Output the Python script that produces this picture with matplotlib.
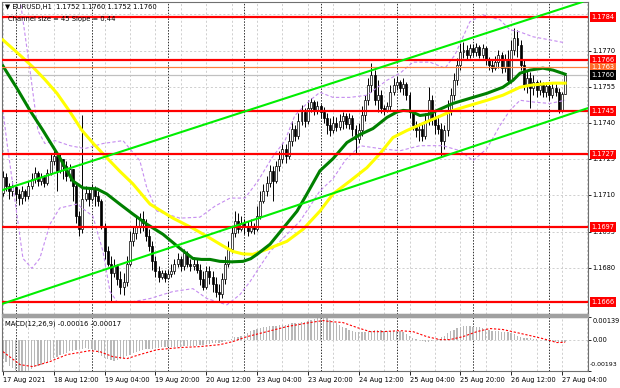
import numpy as np
import matplotlib
matplotlib.use("Agg")
import matplotlib.pyplot as plt
from matplotlib.patches import Rectangle

# ---------------- data (EURUSD H1, 17-27 Aug 2021) ----------------
first_open = 1.17110
closes = [
    1.17177, 1.17140, 1.17119, 1.17135, 1.17106, 1.17089, 1.17119, 1.17098, 1.17140, 1.17169,
    1.17194, 1.17160, 1.17177, 1.17152, 1.17194, 1.17244, 1.17265, 1.17202, 1.17252, 1.17223,
    1.17181, 1.17210, 1.17140, 1.17014, 1.16960, 1.17085, 1.17110, 1.17085, 1.17127, 1.17098,
    1.17077, 1.16972, 1.16868, 1.16818, 1.16777, 1.16806, 1.16752, 1.16722, 1.16743, 1.16818,
    1.16910, 1.16943, 1.16972, 1.17002, 1.16985, 1.16931, 1.16889, 1.16827, 1.16785, 1.16764,
    1.16777, 1.16760, 1.16773, 1.16785, 1.16818, 1.16835, 1.16806, 1.16860, 1.16818, 1.16806,
    1.16818, 1.16793, 1.16752, 1.16722, 1.16785, 1.16764, 1.16735, 1.16702, 1.16693, 1.16752,
    1.16818, 1.16877, 1.16943, 1.16993, 1.16960, 1.16985, 1.16972, 1.16952, 1.16972, 1.16960,
    1.17014, 1.17077, 1.17119, 1.17152, 1.17202, 1.17160, 1.17223, 1.17252, 1.17294, 1.17265,
    1.17327, 1.17377, 1.17348, 1.17410, 1.17444, 1.17410, 1.17461, 1.17486, 1.17452, 1.17469,
    1.17444, 1.17419, 1.17390, 1.17369, 1.17402, 1.17385, 1.17410, 1.17427, 1.17394, 1.17419,
    1.17377, 1.17335, 1.17369, 1.17431, 1.17494, 1.17556, 1.17598, 1.17494, 1.17515, 1.17461,
    1.17452, 1.17469, 1.17527, 1.17556, 1.17569, 1.17544, 1.17561, 1.17515, 1.17444, 1.17390,
    1.17369, 1.17377, 1.17348, 1.17410, 1.17494, 1.17419, 1.17390, 1.17377, 1.17327, 1.17369,
    1.17452, 1.17515, 1.17577, 1.17640, 1.17694, 1.17702, 1.17682, 1.17711, 1.17694, 1.17715,
    1.17682, 1.17711, 1.17661, 1.17640, 1.17627, 1.17652, 1.17682, 1.17627, 1.17661, 1.17577,
    1.17702, 1.17752, 1.17723, 1.17640, 1.17556, 1.17586, 1.17544, 1.17569, 1.17536, 1.17556,
    1.17527, 1.17552, 1.17515, 1.17544, 1.17527, 1.17452, 1.17520, 1.17600]
highs = [
    1.17202, 1.17194, 1.17152, 1.17160, 1.17140, 1.17127, 1.17140, 1.17127, 1.17160, 1.17194,
    1.17219, 1.17202, 1.17194, 1.17185, 1.17210, 1.17277, 1.17298, 1.17265, 1.17277, 1.17252,
    1.17244, 1.17231, 1.17210, 1.17148, 1.17035, 1.17431, 1.17140, 1.17127, 1.17148, 1.17140,
    1.17119, 1.17085, 1.16985, 1.16889, 1.16848, 1.16835, 1.16818, 1.16785, 1.16777, 1.16848,
    1.16952, 1.16972, 1.17014, 1.17027, 1.17035, 1.17002, 1.16960, 1.16910, 1.16848, 1.16806,
    1.16793, 1.16793, 1.16793, 1.16818, 1.16835, 1.16860, 1.16848, 1.16877, 1.16868, 1.16835,
    1.16843, 1.16835, 1.16818, 1.16785, 1.16806, 1.16806, 1.16785, 1.16764, 1.16735, 1.16777,
    1.16848, 1.16910, 1.16972, 1.17035, 1.17027, 1.17014, 1.17002, 1.16993, 1.17002, 1.16985,
    1.17056, 1.17119, 1.17148, 1.17181, 1.17227, 1.17223, 1.17244, 1.17285, 1.17319, 1.17315,
    1.17360, 1.17410, 1.17390, 1.17440, 1.17473, 1.17461, 1.17494, 1.17502, 1.17494, 1.17490,
    1.17477, 1.17465, 1.17440, 1.17419, 1.17427, 1.17423, 1.17436, 1.17444, 1.17440, 1.17440,
    1.17431, 1.17390, 1.17402, 1.17469, 1.17515, 1.17586, 1.17648, 1.17619, 1.17577, 1.17536,
    1.17473, 1.17486, 1.17556, 1.17586, 1.17594, 1.17577, 1.17586, 1.17569, 1.17527, 1.17452,
    1.17410, 1.17402, 1.17394, 1.17440, 1.17548, 1.17515, 1.17452, 1.17431, 1.17402, 1.17390,
    1.17494, 1.17544, 1.17606, 1.17669, 1.17732, 1.17736, 1.17723, 1.17727, 1.17727, 1.17732,
    1.17723, 1.17727, 1.17719, 1.17673, 1.17661, 1.17677, 1.17702, 1.17694, 1.17686, 1.17702,
    1.17744, 1.17794, 1.17786, 1.17744, 1.17661, 1.17619, 1.17611, 1.17598, 1.17577, 1.17577,
    1.17569, 1.17569, 1.17565, 1.17569, 1.17561, 1.17544, 1.17527, 1.17600]
lows = [
    1.17098, 1.17119, 1.17085, 1.17098, 1.17077, 1.17060, 1.17064, 1.17077, 1.17085, 1.17127,
    1.17152, 1.17140, 1.17144, 1.17135, 1.17144, 1.17185, 1.17227, 1.17119, 1.17194, 1.17169,
    1.17160, 1.17160, 1.17077, 1.16985, 1.16931, 1.16943, 1.17077, 1.17056, 1.17077, 1.17056,
    1.17056, 1.16960, 1.16835, 1.16806, 1.16660, 1.16764, 1.16731, 1.16693, 1.16689, 1.16727,
    1.16806, 1.16889, 1.16918, 1.16943, 1.16952, 1.16910, 1.16868, 1.16793, 1.16764, 1.16743,
    1.16752, 1.16743, 1.16752, 1.16764, 1.16773, 1.16802, 1.16785, 1.16793, 1.16802, 1.16785,
    1.16793, 1.16777, 1.16731, 1.16710, 1.16714, 1.16735, 1.16702, 1.16681, 1.16660, 1.16677,
    1.16735, 1.16802, 1.16860, 1.16927, 1.16943, 1.16952, 1.16939, 1.16931, 1.16943, 1.16939,
    1.16952, 1.17002, 1.17069, 1.17098, 1.17135, 1.17077, 1.17152, 1.17202, 1.17235, 1.17235,
    1.17252, 1.17306, 1.17327, 1.17335, 1.17390, 1.17385, 1.17394, 1.17444, 1.17431, 1.17436,
    1.17419, 1.17402, 1.17356, 1.17348, 1.17360, 1.17365, 1.17369, 1.17377, 1.17381, 1.17377,
    1.17348, 1.17277, 1.17319, 1.17348, 1.17410, 1.17473, 1.17527, 1.17473, 1.17444, 1.17440,
    1.17431, 1.17444, 1.17452, 1.17515, 1.17536, 1.17527, 1.17515, 1.17494, 1.17419, 1.17369,
    1.17344, 1.17327, 1.17327, 1.17335, 1.17390, 1.17390, 1.17356, 1.17356, 1.17265, 1.17294,
    1.17348, 1.17431, 1.17494, 1.17556, 1.17619, 1.17669, 1.17661, 1.17669, 1.17677, 1.17677,
    1.17669, 1.17669, 1.17640, 1.17619, 1.17611, 1.17619, 1.17627, 1.17606, 1.17611, 1.17565,
    1.17565, 1.17682, 1.17673, 1.17619, 1.17536, 1.17523, 1.17461, 1.17515, 1.17506, 1.17515,
    1.17506, 1.17506, 1.17494, 1.17502, 1.17511, 1.17440, 1.17444, 1.17520]

# moving averages (bar index, price)
ma_green_i = [0, 4.2, 8.5, 12.6, 17.9, 22.0, 25.2, 29.6, 32.7, 36.8, 40.9, 45.3, 50.4, 55.7,
              59.8, 62.5, 65.2, 68.3, 72.0, 75.6, 78.0, 80.0, 84.1, 88.2, 92.6, 95.7, 99.8,
              103.9, 108.3, 112.4, 116.5, 120.9, 124.1, 126.0, 128.1, 131.3, 134.0, 136.7,
              141.7, 147.0, 152.4, 157.4, 160.6, 162.8, 165.9, 170.0, 173.2, 177.0]
ma_green_p = [1.17636, 1.17548, 1.17452, 1.17369, 1.17256, 1.17160, 1.17131, 1.17127, 1.17106,
              1.17064, 1.17023, 1.16981, 1.16939, 1.16881, 1.16839, 1.16835, 1.16835, 1.16827,
              1.16825, 1.16827, 1.16838, 1.16856, 1.16898, 1.16964, 1.17035, 1.17106, 1.17202,
              1.17252, 1.17319, 1.17352, 1.17377, 1.17423, 1.17446, 1.17452, 1.17450, 1.17431,
              1.17436, 1.17452, 1.17481, 1.17502, 1.17523, 1.17548, 1.17577, 1.17606, 1.17619,
              1.17627, 1.17619, 1.17602]
ma_yellow_i = [0, 4.6, 9.4, 13.2, 17.0, 21.0, 24.9, 28.8, 32.7, 36.8, 40.9, 46.3, 53.5, 59.8,
               65.2, 69.0, 72.4, 75.5, 78.7, 83.1, 89.4, 94.5, 99.8, 103.9, 109.3, 114.6, 118.7,
               122.8, 127.2, 132.2, 136.7, 141.7, 147.0, 152.4, 157.4, 162.8, 165.9, 169.5,
               173.2, 177.0]
ma_yellow_p = [1.17744, 1.17690, 1.17632, 1.17580, 1.17523, 1.17448, 1.17369, 1.17310, 1.17256,
               1.17200, 1.17148, 1.17064, 1.17006, 1.16964, 1.16923, 1.16893, 1.16868, 1.16858,
               1.16856, 1.16877, 1.16910, 1.16960, 1.17035, 1.17106, 1.17160, 1.17215, 1.17273,
               1.17340, 1.17369, 1.17398, 1.17423, 1.17452, 1.17473, 1.17494, 1.17515, 1.17548,
               1.17556, 1.17561, 1.17565, 1.17565]

# envelope bands (dashed violet)
band_up_i = [5.4, 8.5, 11.0, 13.2, 16.4, 21.1, 25.8, 31.5, 37.8, 43.1, 45.3, 48.5, 55.7, 62.0,
             66.8, 71.5, 76.2, 80.3, 84.7, 88.8, 91.9, 96.7, 99.8, 103.9, 109.3, 114.6, 120.9,
             125.0, 129.1, 134.4, 139.2, 142.3, 147.0, 151.1, 156.5, 159.6, 162.8, 166.9,
             172.2, 177.0]
band_up_p = [1.17911, 1.17619, 1.17369, 1.17315, 1.17327, 1.17306, 1.17294, 1.17315, 1.17327,
             1.17244, 1.17131, 1.17035, 1.17006, 1.17010, 1.17056, 1.17089, 1.17089, 1.17160,
             1.17256, 1.17327, 1.17431, 1.17494, 1.17527, 1.17506, 1.17506, 1.17515, 1.17577,
             1.17606, 1.17652, 1.17652, 1.17627, 1.17682, 1.17819, 1.17848, 1.17827, 1.17786,
             1.17777, 1.17757, 1.17744, 1.17732]
band_lo_i = [0, 1.3, 3.8, 6.3, 9.1, 11.6, 14.8, 17.9, 23.3, 28.3, 31.5, 33.7, 35.9, 40.9, 46.3,
             53.5, 59.8, 64.2, 70.5, 74.6, 77.8, 80.9, 84.1, 88.8, 93.5, 96.7, 99.8, 103.9,
             107.7, 112.4, 118.7, 125.0, 131.3, 138.5, 143.9, 148.0, 152.4, 156.5, 159.6,
             162.8, 167.5, 172.2, 177.0]
band_lo_p = [1.17452, 1.17315, 1.17077, 1.16839, 1.16798, 1.16839, 1.16981, 1.17048, 1.17064,
             1.17014, 1.16868, 1.16702, 1.16660, 1.16660, 1.16673, 1.16702, 1.16714, 1.16673,
             1.16647, 1.16689, 1.16743, 1.16806, 1.16868, 1.16931, 1.16993, 1.17056, 1.17119,
             1.17169, 1.17244, 1.17306, 1.17294, 1.17285, 1.17306, 1.17306, 1.17285, 1.17244,
             1.17294, 1.17390, 1.17452, 1.17494, 1.17486, 1.17481, 1.17494]

# equidistant channel (two anchor points per line)
chan_i = [0, 177]
chan_upper = [1.17123, 1.17878]
chan_lower = [1.16652, 1.17430]

levels_red = [1.1784, 1.1766, 1.1745, 1.1727, 1.1697, 1.1666]
level_orange = 1.1763
level_bid = 1.1760
price_ticks = [1.1770, 1.1755, 1.1740, 1.1725, 1.1710, 1.1695, 1.1680]

# MACD (12,26,9), units of 1e-5
macd = [
    -120, -140, -160, -175, -185, -190, -193, -193, -188, -180,
    -170, -162, -155, -145, -135, -125, -112, -105, -95, -88,
    -80, -72, -68, -65, -60, -55, -52, -55, -58, -65,
    -85, -100, -112, -122, -128, -130, -128, -122, -112, -100,
    -92, -85, -78, -70, -62, -58, -55, -55, -52, -50,
    -48, -47, -46, -45, -44, -43, -43, -42, -40, -38,
    -38, -37, -36, -35, -30, -25, -22, -20, -18, -14,
    -8, -2, 6, 14, 18, 22, 28, 40, 50, 60,
    68, 74, 78, 80, 82, 84, 86, 88, 90, 92,
    96, 100, 102, 105, 108, 110, 112, 118, 124, 130,
    135, 139, 132, 120, 110, 100, 92, 80, 70, 60,
    52, 45, 44, 45, 48, 52, 55, 58, 60, 58,
    56, 55, 55, 54, 52, 50, 45, 35, 22, 12,
    5, -2, -8, -14, -15, -10, -2, 6, 14, 25,
    38, 52, 62, 72, 78, 82, 83, 82, 80, 78,
    75, 70, 65, 60, 56, 52, 50, 48, 46, 44,
    40, 32, 24, 18, 12, 10, 8, 5, 2, 0,
    -3, -6, -9, -11, -12, -14, -15, -16]
signal_i = [0, 5.4, 9.4, 14.8, 20.2, 27.4, 30.5, 34.6, 39, 43.1, 48.5, 55.7, 62, 68.3, 72.4,
            76.8, 83.1, 89.4, 96.7, 100.8, 103, 107, 111.5, 115.6, 119.6, 125, 129.1, 133.5,
            137.6, 140.7, 144.8, 149.2, 153.3, 157.4, 161.8, 165.9, 170, 174.4, 177]
signal_v = [-74, -154, -166, -135, -92, -68, -74, -105, -117, -92, -62, -49, -43, -31, -12,
            18, 49, 80, 105, 117, 111, 105, 74, 49, 49, 55, 49, 18, 0, 0,
            18, 49, 68, 62, 43, 25, 6, -18, -17]

date_pos = [0, 16, 32, 48, 64, 80, 96, 112, 128, 144, 160, 176]
date_labels = ['17 Aug 2021', '18 Aug 12:00', '19 Aug 04:00', '19 Aug 20:00', '20 Aug 12:00',
               '23 Aug 04:00', '23 Aug 20:00', '24 Aug 12:00', '25 Aug 04:00', '25 Aug 20:00',
               '26 Aug 12:00', '27 Aug 04:00']
day_starts = [4, 28, 52, 76, 100, 124, 148, 172]

# ---------------- figure ----------------
plt.rcParams['font.family'] = 'DejaVu Sans'
W, H = 620, 388
fig = plt.figure(figsize=(W / 100, H / 100), dpi=100)


def box(x0, y0, x1, y1):
    return [x0 / W, 1 - y1 / H, (x1 - x0) / W, (y1 - y0) / H]


ax = fig.add_axes(box(2, 2, 588, 314))
ax2 = fig.add_axes(box(2, 317, 588, 371), sharex=ax)

idx = np.arange(len(closes))
c = np.array(closes)
o = np.concatenate([[first_open], c[:-1]])
h = np.maximum(np.array(highs), np.maximum(o, c))
l = np.minimum(np.array(lows), np.minimum(o, c))
bull = c >= o

# grid
for a in (ax, ax2):
    for g in range(0, 185, 8):
        a.axvline(g, color='#c8c8c8', lw=0.6, ls=(0, (2.5, 2.5)), zorder=0)
    for d in day_starts:
        a.axvline(d, color='#303030', lw=0.7, ls=(0, (1.5, 1.5)), zorder=0.5)
for p in price_ticks:
    ax.axhline(p, color='#c8c8c8', lw=0.6, ls=(0, (2.5, 2.5)), zorder=0)
ax.axhline(1.1785, color='#c8c8c8', lw=0.6, ls=(0, (2.5, 2.5)), zorder=0)

# candles
ax.vlines(idx, l, h, color='black', lw=0.7, zorder=2)
body = np.maximum(np.abs(c - o), 0.00002)
ax.bar(idx, body, bottom=np.minimum(o, c), width=0.62,
       color=np.where(bull, 'white', 'black'), edgecolor='black', lw=0.5, zorder=2.1)

# bands and moving averages
ax.plot(band_up_i, band_up_p, color='#c58cf0', lw=0.8, ls=(0, (3, 2)), zorder=2.5)
ax.plot(band_lo_i, band_lo_p, color='#c58cf0', lw=0.8, ls=(0, (3, 2)), zorder=2.5)
ax.plot(ma_yellow_i, ma_yellow_p, color='#ffff00', lw=2.2, zorder=3, solid_joinstyle='round')
ax.plot(ma_green_i, ma_green_p, color='#008000', lw=2.2, zorder=3.1, solid_joinstyle='round')

# horizontal levels and channel
ax.axhline(level_bid, color='#c0c0c0', lw=0.9, zorder=1)
ax.axhline(level_orange, color='#ff8040', lw=0.9, zorder=4)
for lv in levels_red:
    ax.axhline(lv, color='#ff0000', lw=1.6, zorder=4)
ax.axline((chan_i[0], chan_upper[0]), (chan_i[1], chan_upper[1]), color='#00ee00', lw=1.5, zorder=4)
ax.axline((chan_i[0], chan_lower[0]), (chan_i[1], chan_lower[1]), color='#00ee00', lw=1.5, zorder=4)

ax.set_xlim(-0.3, 184.2)
ax.set_ylim(1.16609, 1.17901)

# right price scale
ytr = ax.get_yaxis_transform()
ax.set_yticks(price_ticks)
ax.yaxis.tick_right()
ax.tick_params(axis='y', length=2, width=0.6, labelright=False)
ax.tick_params(axis='x', bottom=False, labelbottom=False)
for p in price_ticks:
    ax.text(1.0077, p, f'{p:.4f}', transform=ytr, fontsize=4.8, va='center', ha='left',
            clip_on=False)
label_boxes = [(1.1784, '#ff0000'), (1.1766, '#ff0000'), (1.1763, '#ff6a2a'), (1.1760, '#000000'),
               (1.1745, '#ff0000'), (1.1727, '#ff0000'), (1.1697, '#ff0000'), (1.1666, '#ff0000')]
for p, col in label_boxes:
    ax.text(1.0058, p, f'{p:.4f}', transform=ytr, fontsize=4.8, va='center', ha='left',
            color='white', clip_on=False, zorder=6,
            bbox=dict(boxstyle='square,pad=0.28', fc=col, ec='none'))

# MACD panel
ax2.bar(idx, np.array(macd) * 1e-5, width=0.42, color='#b8b8b8', zorder=1)
ax2.plot(signal_i, np.array(signal_v) * 1e-5, color='#ff0000', lw=0.8, ls=(0, (2, 1.6)), zorder=2)
ax2.axhline(0, color='#c8c8c8', lw=0.6, ls=(0, (2.5, 2.5)), zorder=0)
ax2.set_ylim(-0.00193, 0.00139)
ax2.set_yticks([0.00139, 0, -0.00193])
ax2.yaxis.tick_right()
ax2.tick_params(axis='y', length=2, width=0.6, labelright=False)
ytr2 = ax2.get_yaxis_transform()
ax2.text(1.0077, 0.00112, '0.00139', transform=ytr2, fontsize=4.8, va='center', ha='left', clip_on=False)
ax2.text(1.0077, 0.0, '0.00', transform=ytr2, fontsize=4.8, va='center', ha='left', clip_on=False)
ax2.text(1.0036, -0.00155, '-0.00193', transform=ytr2, fontsize=4.5, va='center', ha='left', clip_on=False)
ax2.set_xticks(date_pos)
ax2.set_xticklabels(date_labels, fontsize=4.8, ha='left')
ax2.tick_params(axis='x', length=3, width=0.6, pad=1.5)

for a in (ax, ax2):
    for s in a.spines.values():
        s.set_color('#707070')
        s.set_linewidth(0.8)

# separator between panels
fig.patches.append(Rectangle((2 / W, 1 - 317 / H), 586 / W, 3 / H, transform=fig.transFigure,
                             color='#a0a0a0', zorder=5))

# header texts
fig.text(5 / W, 1 - 7.5 / H, '\u25bc EURUSD,H1  1.1752 1.1760 1.1752 1.1760', fontsize=4.9,
         va='center', ha='left')
fig.text(8 / W, 1 - 19 / H, 'Channel size = 45 Slope = 0.44', fontsize=4.9, va='center', ha='left')
fig.text(5 / W, 1 - 323.5 / H, 'MACD(12,26,9) -0.00016 -0.00017', fontsize=4.9, va='center',
         ha='left')

fig.savefig('out.png', dpi=100)
